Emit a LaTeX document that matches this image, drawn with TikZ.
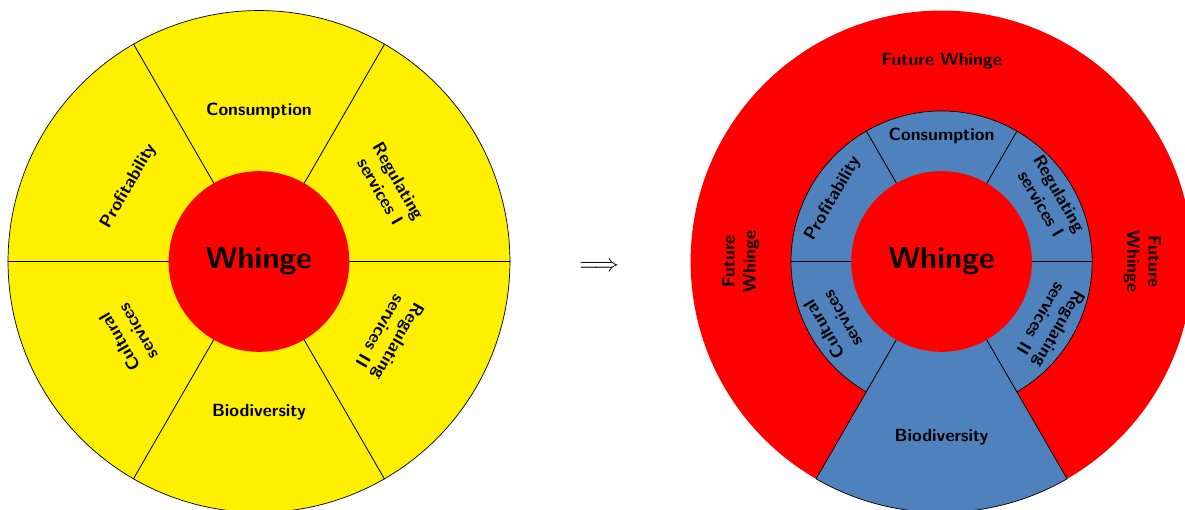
\documentclass[tikz,border=0pt]{standalone}
\usepackage{amsmath}
\usepackage{tikz}

\definecolor{whingeyellow}{RGB}{255,240,0}
\definecolor{ringblue}{RGB}{79,129,189}

\begin{document}
\begin{tikzpicture}[font=\sffamily\bfseries]
        \useasboundingbox (-5.16,-4.95) rectangle (18.45,5.21);
        % today
        \draw [fill=whingeyellow] (0,0) -- (0:5) arc (0:60:5) -- cycle;
        \draw [fill=whingeyellow] (0,0) -- (60:5) arc (60:120:5) -- cycle;
        \draw [fill=whingeyellow] (0,0) -- (120:5) arc (120:180:5) -- cycle;
        \draw [fill=whingeyellow] (0,0) -- (180:5) arc (180:240:5) -- cycle;
        \draw [fill=whingeyellow] (0,0) -- (240:5) arc (240:300:5) -- cycle;
        \draw [fill=whingeyellow] (0,0) -- (300:5) arc (300:360:5) -- cycle;
        \fill [red] (0,0) circle (1.8);
        \node (l-whinge) at (0,0) {\LARGE Whinge};
        \node (l-cons) at (90:3) {Consumption};
        \node [rotate=-60, align=center] (l-regI) at (30:3) {Regulating\\services I};
        \node [rotate=60] (l-prof) at (150:3) {Profitability};
        \node [rotate=120, align=center] (l-cult) at (210:3) {Cultural\\services};
        \node (l-bio) at (270:3) {Biodiversity};
        \node [rotate=240, align=center] (l-regII) at (330:3) {Regulating\\services II};

        \node [scale=1.4] (arrow) at (6.78,-0.1) {$\Longrightarrow$};

        % future
        \begin{scope}[xshift=13.6cm]
        \fill [red] (0,0) circle (5);
        \draw [fill=ringblue] (0,0) -- (0:3) arc (0:60:3) -- cycle;
        \draw [fill=ringblue] (0,0) -- (60:3) arc (60:120:3) -- cycle;
        \draw [fill=ringblue] (0,0) -- (120:3) arc (120:180:3) -- cycle;
        \draw [fill=ringblue] (0,0) -- (180:3) arc (180:240:3) -- cycle;
        \draw [fill=ringblue] (0,0) -- (240:5) arc (240:300:5) -- cycle;
        \draw [fill=ringblue] (0,0) -- (300:3) arc (300:360:3) -- cycle;
        \fill [red] (0,0) circle (1.8);
        \node (r-whinge) at (0,0) {\LARGE Whinge};
        \node (r-cons) at (90:2.5) {Consumption};
        \node [rotate=-60, align=center] (r-regI) at (30:2.5) {Regulating\\services I};
        \node [rotate=60] (r-prof) at (150:2.5) {Profitability};
        \node [rotate=120, align=center] (r-cult) at (210:2.5) {Cultural\\services};
        \node (r-bio) at (270:3.5) {Biodiversity};
        \node [rotate=240, align=center] (r-regII) at (330:2.5) {Regulating\\services II};
        \node (r-futtop) at (90:4) {Future Whinge};
        \node [rotate=90, align=center] (r-futleft) at (180:4) {Future\\Whinge};
        \node [rotate=-90, align=center] (r-futright) at (0:4) {Future\\Whinge};
        \end{scope}
    \end{tikzpicture}
\end{document}
